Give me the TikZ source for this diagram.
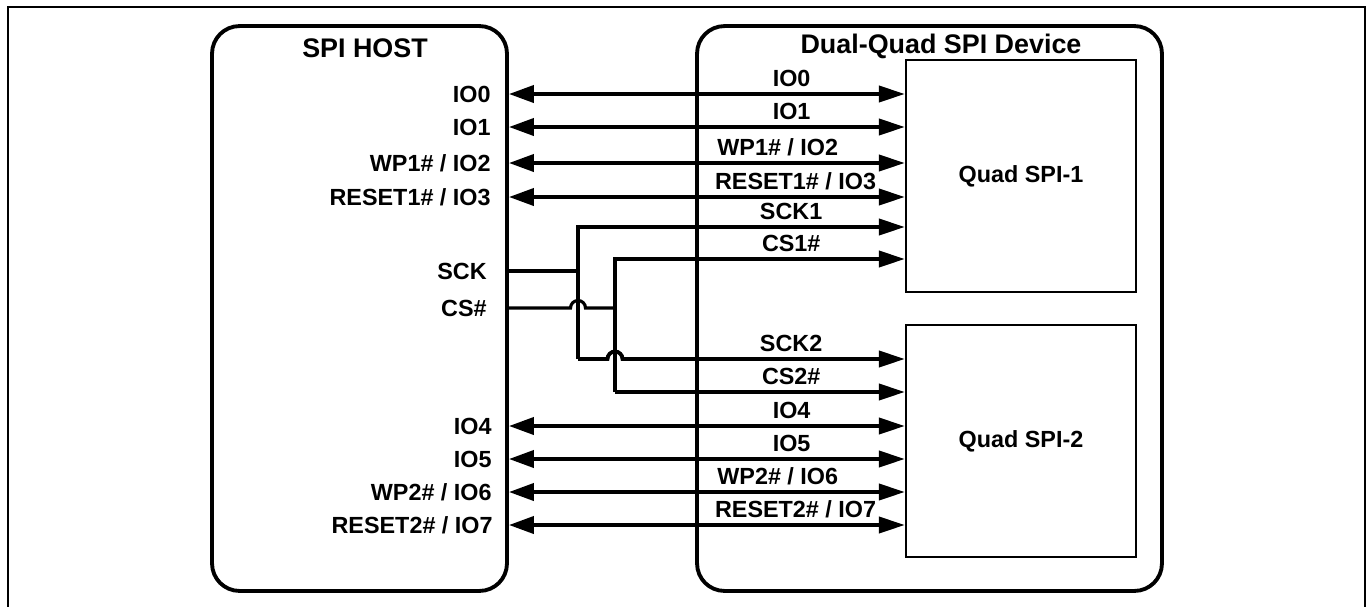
\documentclass[tikz,border=0pt]{standalone}
\usepackage{fontspec}
\setmainfont{Liberation Sans}
\usetikzlibrary{arrows.meta, calc, positioning}

\begin{document}
\begin{tikzpicture}[x=0.02cm, y=-0.02cm,
  font=\bfseries\fontsize{13.3}{16}\selectfont,
  blk/.style={draw, line width=2.2pt, rounded corners=0.55cm, minimum width=#1, minimum height=11.3cm, inner sep=0pt},
  chip/.style={draw, line width=1.3pt, minimum width=4.6cm, minimum height=4.64cm, inner sep=0pt},
  bus/.style={line width=2.2pt, {Triangle[length=0.5cm,width=0.34cm]}-{Triangle[length=0.52cm,width=0.32cm]}},
  sig/.style={line width=2.2pt, -{Triangle[length=0.52cm,width=0.32cm]}},
  wire/.style={line width=1.8pt},
  pin/.style={anchor=east, inner sep=0pt},
  lbl/.style={above=0.12cm, inner sep=0pt, text depth=0pt},
  ttl/.style={font=\bfseries\fontsize{15.3}{18}\selectfont, anchor=base}]
\useasboundingbox (0,0) rectangle (1369,606);
% outer frame
\draw[line width=1.3pt] (8,620)--(8,7)--(1365,7)--(1365,620);
% blocks
\node[blk=5.9cm] (host) at (359.5,308.5) {};
\node[blk=9.3cm] (dev) at (929.5,308.5) {};
\node[chip] (q1) at (1021,176) {Quad SPI-1};
\node[chip] (q2) at (1021,441) {Quad SPI-2};
\node[ttl] at (365,57) {SPI HOST};
\node[ttl] at (941,53) {Dual-Quad SPI Device};
% host pins
\node[pin] (hio0) at (491,94) {IO0};
\node[pin] (hio1) at (491,127) {IO1};
\node[pin] (hwp1) at (491,163) {WP1\# / IO2};
\node[pin] (hrst1) at (491,197) {RESET1\# / IO3};
\node[pin] (hsck) at (487,271) {SCK};
\node[pin] (hcs) at (487,308) {CS\#};
\node[pin] (hio4) at (492,426) {IO4};
\node[pin] (hio5) at (492,459) {IO5};
\node[pin] (hwp2) at (492,492) {WP2\# / IO6};
\node[pin] (hrst2) at (493,525) {RESET2\# / IO7};
% data lines
\draw[bus] (host.east |- hio0) -- (q1.west |- hio0) node[lbl, pos=0.714] {IO0};
\draw[bus] (host.east |- hio1) -- (q1.west |- hio1) node[lbl, pos=0.714] {IO1};
\draw[bus] (host.east |- hwp1) -- (q1.west |- hwp1) node[lbl, pos=0.679] {WP1\# / IO2};
\draw[bus] (host.east |- hrst1) -- (q1.west |- hrst1) node[lbl, pos=0.724] {RESET1\# / IO3};
\draw[bus] (host.east |- hio4) -- (q2.west |- hio4) node[lbl, pos=0.714] {IO4};
\draw[bus] (host.east |- hio5) -- (q2.west |- hio5) node[lbl, pos=0.714] {IO5};
\draw[bus] (host.east |- hwp2) -- (q2.west |- hwp2) node[lbl, pos=0.679] {WP2\# / IO6};
\draw[bus] (host.east |- hrst2) -- (q2.west |- hrst2) node[lbl, pos=0.724] {RESET2\# / IO7};
% clock and chip select split
\coordinate (sck1) at (578,227);
\coordinate (sck2) at (578,359);
\coordinate (cs1) at (615,259);
\coordinate (cs2) at (615,392);
\draw[wire] (host.east |- hsck) -- (sck1 |- hsck);
\draw[wire] (host.east |- hcs) -- ($(sck1 |- hcs)+(-7.5,0)$) arc[start angle=180, end angle=0, radius=0.15cm] -- (cs1 |- hcs);
\draw[sig] (sck2) -- (sck1) -- (q1.west |- sck1) node[lbl, pos=0.652] {SCK1};
\draw[sig] (cs2) -- (cs1) -- (q1.west |- cs1) node[lbl, pos=0.608] {CS1\#};
\draw[sig] (sck2) -- ($(cs2 |- sck2)+(-7.5,0)$) arc[start angle=180, end angle=0, radius=0.15cm] -- (q2.west |- sck2) node[lbl, pos=0.597] {SCK2};
\draw[sig] (cs2) -- (q2.west |- cs2) node[lbl, pos=0.608] {CS2\#};
\end{tikzpicture}
\end{document}
